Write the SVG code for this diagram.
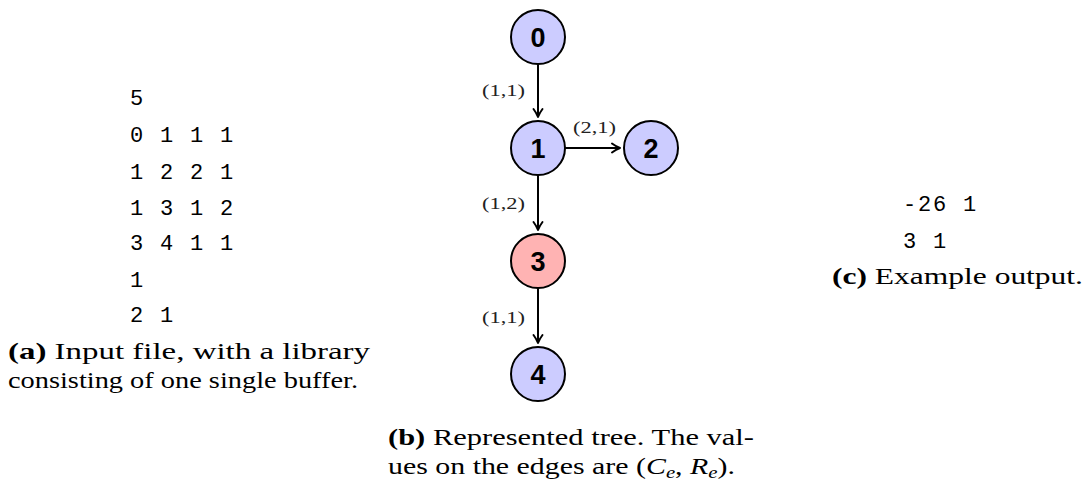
<svg xmlns="http://www.w3.org/2000/svg" width="1084" height="480" viewBox="0 0 1084 480">
<style>
.mono{font-family:"Liberation Mono","DejaVu Sans Mono",monospace;font-size:22px;fill:#000;letter-spacing:1.8px}
.cap{font-family:"Liberation Serif",serif;font-size:23px;fill:#000}
.b{font-weight:bold}
.node circle{stroke:#000;stroke-width:2}
.blue{fill:#ccccff}
.red{fill:#ffb3b3}
.nl{font-family:"Liberation Sans","DejaVu Sans",sans-serif;font-weight:bold;font-size:27px;text-anchor:middle;fill:#000}
.el{font-family:"Liberation Serif",serif;font-size:17px;fill:#222}
.edge{stroke:#000;stroke-width:2;fill:none;marker-end:url(#arr)}
</style>
<defs>
<marker id="arr" viewBox="0 0 12 12" refX="10" refY="6" markerWidth="12" markerHeight="12" markerUnits="userSpaceOnUse" orient="auto">
<path d="M2,1.5 Q6,4.5 10,6 Q6,7.5 2,10.5" fill="none" stroke="#000" stroke-width="2" stroke-linecap="round" stroke-linejoin="round"/>
</marker>
</defs>
<rect width="1084" height="480" fill="#fff"/>
<g id="input">
<text class="mono" x="130" y="105">5</text>
<text class="mono" x="130" y="142">0 1 1 1</text>
<text class="mono" x="130" y="179">1 2 2 1</text>
<text class="mono" x="130" y="215">1 3 1 2</text>
<text class="mono" x="130" y="250">3 4 1 1</text>
<text class="mono" x="130" y="287">1</text>
<text class="mono" x="130" y="322">2 1</text>
<text class="cap" x="8" y="359" textLength="362" lengthAdjust="spacingAndGlyphs"><tspan class="b">(a)</tspan> Input file, with a library</text>
<text class="cap" x="8" y="388" textLength="350" lengthAdjust="spacingAndGlyphs">consisting of one single buffer.</text>
</g>
<g id="connectors">
<line class="edge" x1="538" y1="64" x2="538" y2="117"/>
<line class="edge" x1="565" y1="148" x2="620" y2="148"/>
<line class="edge" x1="538" y1="175" x2="538" y2="230"/>
<line class="edge" x1="538" y1="288" x2="538" y2="343"/>
<text class="el" x="482" y="96" textLength="43" lengthAdjust="spacingAndGlyphs">(1,1)</text>
<text class="el" x="573" y="133" textLength="43" lengthAdjust="spacingAndGlyphs">(2,1)</text>
<text class="el" x="482" y="209" textLength="43" lengthAdjust="spacingAndGlyphs">(1,2)</text>
<text class="el" x="482" y="323" textLength="43" lengthAdjust="spacingAndGlyphs">(1,1)</text>
</g>
<g id="node0" class="node"><circle class="blue" cx="538" cy="37" r="27"/><text class="nl" x="538" y="47">0</text></g>
<g id="node1" class="node"><circle class="blue" cx="538" cy="148" r="27"/><text class="nl" x="538" y="158">1</text></g>
<g id="node2" class="node"><circle class="blue" cx="651" cy="148" r="27"/><text class="nl" x="651" y="158">2</text></g>
<g id="node3" class="node"><circle class="red" cx="538" cy="261" r="27"/><text class="nl" x="538" y="271">3</text></g>
<g id="node4" class="node"><circle class="blue" cx="538" cy="374" r="27"/><text class="nl" x="538" y="384">4</text></g>
<g id="captionb">
<text class="cap" x="388" y="445" textLength="366" lengthAdjust="spacingAndGlyphs"><tspan class="b">(b)</tspan> Represented tree. The val-</text>
<text class="cap" x="388" y="474" textLength="347" lengthAdjust="spacingAndGlyphs">ues on the edges are (<tspan font-style="italic">C</tspan><tspan font-style="italic" font-size="16" dy="4">e</tspan><tspan dy="-4">, </tspan><tspan font-style="italic">R</tspan><tspan font-style="italic" font-size="16" dy="4">e</tspan><tspan dy="-4">).</tspan></text>
</g>
<g id="output">
<text class="mono" x="903" y="211">-26 1</text>
<text class="mono" x="903" y="248">3 1</text>
<text class="cap" x="832" y="284" textLength="251" lengthAdjust="spacingAndGlyphs"><tspan class="b">(c)</tspan> Example output.</text>
</g>
</svg>
